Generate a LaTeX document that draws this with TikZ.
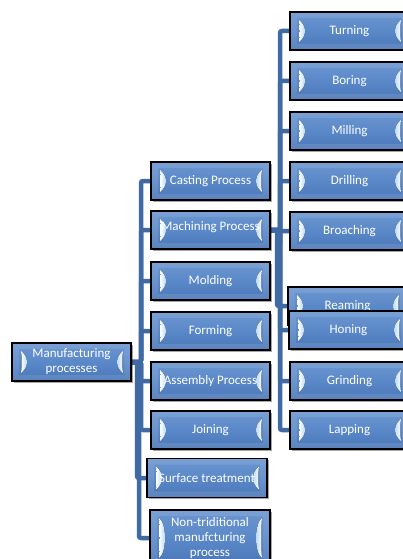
\documentclass[tikz,border=0pt]{standalone}
\usepackage{fontspec}
\setmainfont{Carlito}
\usetikzlibrary{shadows,backgrounds}

\definecolor{boxtop}{RGB}{108,150,208}
\definecolor{boxmid}{RGB}{90,136,200}
\definecolor{boxbot}{RGB}{74,118,182}
\definecolor{linkblue}{RGB}{64,106,164}
\definecolor{bevel}{RGB}{165,205,244}

\tikzset{
  procbox/.style={
    rectangle, draw=black, line width=1.4pt,
    minimum width=119pt, minimum height=38pt, inner sep=0pt,
    top color=boxtop, bottom color=boxbot, middle color=boxmid,
    text=white, font=\fontsize{13}{15}\selectfont, align=center,
    drop shadow={shadow xshift=1.5pt, shadow yshift=-1.5pt, fill=black, opacity=0.35},
    path picture={
      % light bevel frame
      \fill[white, opacity=0.10, even odd rule]
        (path picture bounding box.north west) rectangle (path picture bounding box.south east)
        ([xshift=7pt,yshift=-6pt]path picture bounding box.north west)
        rectangle ([xshift=-7pt,yshift=6pt]path picture bounding box.south east);
      % left crescent
      \fill[left color=white, right color=bevel]
        ([xshift=9pt,yshift=-8pt]path picture bounding box.north west)
        .. controls ([xshift=17pt,yshift=-14pt]path picture bounding box.north west)
        and ([xshift=17pt,yshift=14pt]path picture bounding box.south west)
        .. ([xshift=9pt,yshift=8pt]path picture bounding box.south west)
        .. controls ([xshift=10pt,yshift=14pt]path picture bounding box.south west)
        and ([xshift=10pt,yshift=-14pt]path picture bounding box.north west)
        .. cycle;
      % right crescent
      \fill[left color=bevel, right color=white]
        ([xshift=-8pt,yshift=-8pt]path picture bounding box.north east)
        .. controls ([xshift=-16pt,yshift=-14pt]path picture bounding box.north east)
        and ([xshift=-16pt,yshift=14pt]path picture bounding box.south east)
        .. ([xshift=-8pt,yshift=8pt]path picture bounding box.south east)
        .. controls ([xshift=-9pt,yshift=14pt]path picture bounding box.south east)
        and ([xshift=-9pt,yshift=-14pt]path picture bounding box.north east)
        .. cycle;
    }
  },
  link/.style={draw=linkblue, line width=4.5pt, rounded corners=2pt}
}

\begin{document}
\begin{tikzpicture}[x=1pt, y=-1pt]
  \useasboundingbox (0,0) rectangle (403,559);
  \clip (0,0) rectangle (403,559);

  % root
  \node[procbox] (root) at (71.5,362) {Manufacturing\\processes};

  % second level
  \node[procbox] (cast)  at (210.5,181) {Casting Process};
  \node[procbox] (mach)  at (210.5,230) {\makebox[0pt]{\raisebox{8pt}{Machining Process}}};
  \node[procbox] (mold)  at (210.5,281) {Molding};
  \node[procbox] (form)  at (210.5,331) {Forming};
  \node[procbox] (assem) at (210.5,381) {\makebox[0pt]{Assembly Process}};
  \node[procbox] (join)  at (210.5,430) {Joining};
  \node[procbox, minimum width=120pt, minimum height=39pt] (surf) at (207,478) {\makebox[0pt]{Surface treatment}};
  \node[procbox, minimum width=120pt, minimum height=56pt] (nontrad) at (210,538)
    {Non-triditional\\manufcturing\\process};

  % machining operations
  \node[procbox] (turn)  at (349.5,31)  {Turning};
  \node[procbox] (bore)  at (349.5,81)  {Boring};
  \node[procbox] (mill)  at (349.5,131) {Milling};
  \node[procbox] (drill) at (349.5,181) {Drilling};
  \node[procbox] (broach) at (349.5,231) {Broaching};
  \node[procbox] (ream)  at (347.5,306) {Reaming};
  \node[procbox] (hone)  at (348.5,330) {Honing};
  \node[procbox] (grind) at (349.5,381) {Grinding};
  \node[procbox] (lap)   at (349.5,430) {Lapping};

  % branch points
  \coordinate (ja) at (141,362);
  \coordinate (js) at (137,362);
  \coordinate (jn) at (139,362);
  \coordinate (jb) at (280,230);
  \coordinate (jr) at (277,230);

  \begin{scope}[on background layer]
    \foreach \c in {cast,mach,mold,form,assem,join}
      \draw[link] (root.east) -- (ja) |- (\c.west);
    \draw[link] (root.east) -- (js) |- (surf.west);
    \draw[link] (root.east) -- (jn) |- (nontrad.west);
    \foreach \c in {turn,bore,mill,drill,broach,hone,grind,lap}
      \draw[link] (mach.east) -- (jb) |- (\c.west);
    \draw[link] (mach.east) -- (jr) |- (ream.west);
  \end{scope}
\end{tikzpicture}
\end{document}
